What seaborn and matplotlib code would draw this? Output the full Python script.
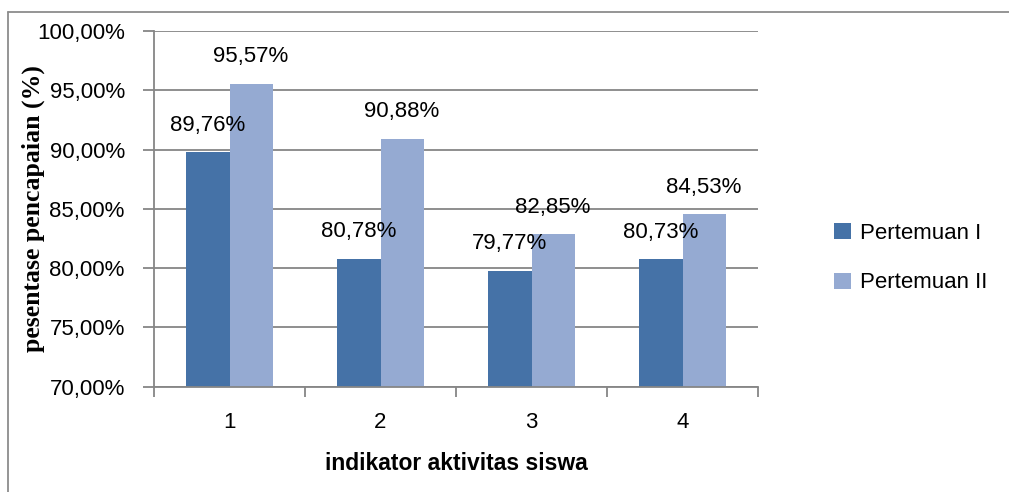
import matplotlib
matplotlib.use("Agg")
import matplotlib.pyplot as plt
import seaborn as sns
import pandas as pd
from matplotlib.ticker import FuncFormatter, FixedLocator
from matplotlib.lines import Line2D

categories = ["1", "2", "3", "4"]
series_names = ["Pertemuan I", "Pertemuan II"]
pertemuan_1 = [89.76, 80.78, 79.77, 80.73]
pertemuan_2 = [95.57, 90.88, 82.85, 84.53]
y_ticks = [70, 75, 80, 85, 90, 95, 100]

df = pd.DataFrame({
    "indikator": categories * 2,
    "nilai": pertemuan_1 + pertemuan_2,
    "seri": [series_names[0]] * 4 + [series_names[1]] * 4,
})

sns.set_theme(style="white")
plt.rcParams["font.family"] = ["Liberation Sans", "DejaVu Sans"]
plt.rcParams["text.color"] = "black"
plt.rcParams["axes.labelcolor"] = "black"

W, H = 1009, 492
fig = plt.figure(figsize=(W / 100, H / 100), dpi=100)
ax = fig.add_axes([154 / W, 1 - 386.7 / H, (758 - 154) / W, (386.7 - 31) / H])

colors = ["#4572A7", "#95AAD2"]
sns.barplot(data=df, x="indikator", y="nilai", hue="seri", palette=colors,
            width=0.57, ax=ax, saturation=1, legend=True, edgecolor="none")

ax.set_ylim(70, 100)
ax.set_xlim(-0.5, 3.5)
ax.yaxis.set_major_locator(FixedLocator(y_ticks))
ax.yaxis.set_major_formatter(FuncFormatter(lambda v, p: f"{v:.2f}".replace(".", ",") + "%"))
ax.grid(axis="y", color="#868686", linewidth=1.3)
ax.set_axisbelow(True)
for s in ["top", "right"]:
    ax.spines[s].set_visible(False)
for s in ["left", "bottom"]:
    ax.spines[s].set_color("#868686")
    ax.spines[s].set_linewidth(1.3)

ax.tick_params(axis="y", which="major", left=True, length=8, width=1.3, color="#868686",
               labelsize=16, pad=13, labelcolor="black")
ax.set_xticks(range(len(categories)))
ax.set_xticklabels(categories)
ax.set_xticks([i - 0.5 for i in range(len(categories) + 1)], minor=True)
ax.tick_params(axis="x", which="major", bottom=False, labelsize=16, pad=12, labelcolor="black")
ax.tick_params(axis="x", which="minor", bottom=True, length=7, width=1.3, color="#868686")

for cont in ax.containers:
    ax.bar_label(cont, labels=[f"{v:.2f}".replace(".", ",") + "%" for v in cont.datavalues],
                 padding=12, fontsize=16, color="black")

ax.set_xlabel("indikator aktivitas siswa", fontsize=16.5, fontweight="bold", labelpad=14)
ax.set_ylabel("pesentase pencapaian (%)", fontsize=18.5, fontweight="bold",
              family=["Liberation Serif", "DejaVu Serif"])
ax.yaxis.set_label_coords((45 - 154) / 604, 0.5)

leg = ax.legend(loc="center left", bbox_to_anchor=(814 / W, 1 - 258 / H),
                bbox_transform=fig.transFigure, frameon=False, fontsize=16,
                handlelength=0.75, handleheight=0.75, handletextpad=0.4,
                labelspacing=1.3, title=None)

border_kw = dict(transform=fig.transFigure, color="#8C8C8C", linewidth=1.3)
fig.add_artist(Line2D([8 / W, 1], [1 - 12 / H, 1 - 12 / H], **border_kw))
fig.add_artist(Line2D([8 / W, 8 / W], [0, 1 - 12 / H], **border_kw))

fig.savefig("out.png", dpi=100)
